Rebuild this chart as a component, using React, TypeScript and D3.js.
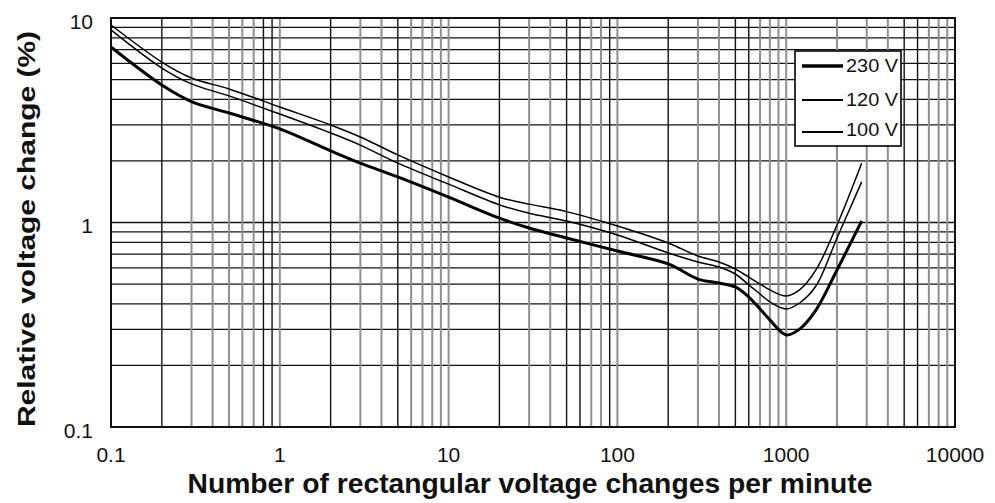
import React from "react";
import * as d3 from "d3";

// Changes per minute (x) and permitted relative voltage change in % (y)
const rate = [0.1, 0.2, 0.3, 0.5, 1, 2, 3, 5, 10, 20, 30, 50, 100, 200, 300, 400, 500, 600, 700, 800, 1000, 1200, 1500, 2000, 2800];
const v230 = [7.21, 4.7, 3.9, 3.43, 2.87, 2.24, 1.95, 1.67, 1.33, 1.05, 0.94, 0.84, 0.725, 0.627, 0.529, 0.506, 0.484, 0.432, 0.378, 0.334, 0.282, 0.301, 0.373, 0.586, 1.017];
const v120 = [8.74, 5.69, 4.76, 4.16, 3.39, 2.74, 2.39, 1.95, 1.54, 1.22, 1.11, 1.017, 0.869, 0.71, 0.641, 0.606, 0.56, 0.495, 0.447, 0.409, 0.378, 0.404, 0.489, 0.84, 1.58];
const v100 = [9.24, 6.09, 5.09, 4.5, 3.67, 3.0, 2.62, 2.14, 1.67, 1.33, 1.23, 1.13, 0.961, 0.794, 0.686, 0.641, 0.592, 0.541, 0.5, 0.468, 0.437, 0.468, 0.586, 0.972, 1.95];

const seriesNames = ["230 V", "120 V", "100 V"];
const xTickLabels = ["0.1", "1", "10", "100", "1000", "10000"];
const yTickLabels = ["0.1", "1", "10"];

// grid lines that print darker than the rest
const darkX = [0.2, 0.8, 0.9, 2, 5, 20, 50, 60, 90, 200, 500, 600, 5000, 6000];

const W = 995;
const H = 503;
const L = 111, R = 955, T = 18, B = 427;
const FONT = "'Liberation Sans', Arial, Helvetica, sans-serif";

export default function App() {
  const x = d3.scaleLog().domain([0.1, 10000]).range([L, R]);
  const y = d3.scaleLog().domain([0.1, 10]).range([B, T]);

  const gridX: number[] = [];
  for (let e = -1; e < 4; e++) for (let m = 1; m <= 9; m++) gridX.push(+(m * Math.pow(10, e)).toPrecision(3));
  const gridY: number[] = [];
  for (let e = -1; e < 1; e++) for (let m = 1; m <= 9; m++) gridY.push(+(m * Math.pow(10, e)).toPrecision(3));

  const line = d3
    .line<[number, number]>()
    .x((d) => x(d[0]))
    .y((d) => y(d[1]))
    .curve(d3.curveCatmullRom.alpha(0.5));

  const series = [
    { name: seriesNames[0], values: v230, w: 3 },
    { name: seriesNames[1], values: v120, w: 1.5 },
    { name: seriesNames[2], values: v100, w: 1.5 },
  ];

  const legendY = [66, 100, 132];
  const legendTextY = [65, 99, 129];

  return (
    <svg width={W} height={H} style={{ position: "absolute", left: 0, top: 0, background: "#fff" }} fontFamily={FONT}>
      <rect x={0} y={0} width={W} height={H} fill="#fff" />
      {/* horizontal grid */}
      {gridY.filter((v) => v > 0.1).map((v) => (
        <line key={"gy" + v} x1={L} x2={R} y1={y(v)} y2={y(v)} stroke="#111" strokeWidth={1.3} />
      ))}
      {/* vertical grid */}
      {gridX.filter((v) => v > 0.1).map((v) => {
        const dark = darkX.includes(v);
        return (
          <line
            key={"gx" + v}
            x1={x(v)}
            x2={x(v)}
            y1={T}
            y2={B}
            stroke={dark ? "#111" : "#8f8f8f"}
            strokeWidth={dark ? 1.4 : 2}
          />
        );
      })}
      {/* curves */}
      {series.map((s) => (
        <path
          key={s.name}
          d={line(rate.map((r, i) => [r, s.values[i]] as [number, number])) || ""}
          fill="none"
          stroke="#000"
          strokeWidth={s.w}
          strokeLinejoin="round"
        />
      ))}
      {/* frame */}
      <rect x={L} y={T} width={R - L} height={B - T} fill="none" stroke="#111" strokeWidth={2} />
      {/* legend */}
      <rect x={795} y={51} width={106} height={95} fill="#fff" stroke="#000" strokeWidth={1.6} />
      {series.map((s, i) => (
        <g key={"lg" + s.name}>
          <line x1={802} x2={843} y1={legendY[i]} y2={legendY[i]} stroke="#000" strokeWidth={s.w === 3 ? 3.5 : 1.8} />
          <text x={846} y={legendTextY[i]} dominantBaseline="central" fontSize={19} fill="#111" textLength={52} lengthAdjust="spacingAndGlyphs">
            {s.name}
          </text>
        </g>
      ))}
      {/* x tick labels */}
      {xTickLabels.map((t) => (
        <text key={"xt" + t} x={x(+t)} y={462} textAnchor="middle" fontSize={21} fill="#111">
          {t}
        </text>
      ))}
      {/* y tick labels */}
      {yTickLabels.map((t) => (
        <text key={"yt" + t} x={93} y={y(+t) + 3} textAnchor="end" dominantBaseline="central" fontSize={21} fill="#111">
          {t}
        </text>
      ))}
      {/* axis titles */}
      <text x={530} y={493} textAnchor="middle" fontSize={27} fontWeight="bold" fill="#111" textLength={685} lengthAdjust="spacingAndGlyphs">
        Number of rectangular voltage changes per minute
      </text>
      <text
        transform={`translate(35,229) rotate(-90)`}
        textAnchor="middle"
        fontSize={24}
        fontWeight="bold"
        fill="#111"
        textLength={396}
        lengthAdjust="spacingAndGlyphs"
      >
        Relative voltage change (%)
      </text>
    </svg>
  );
}
